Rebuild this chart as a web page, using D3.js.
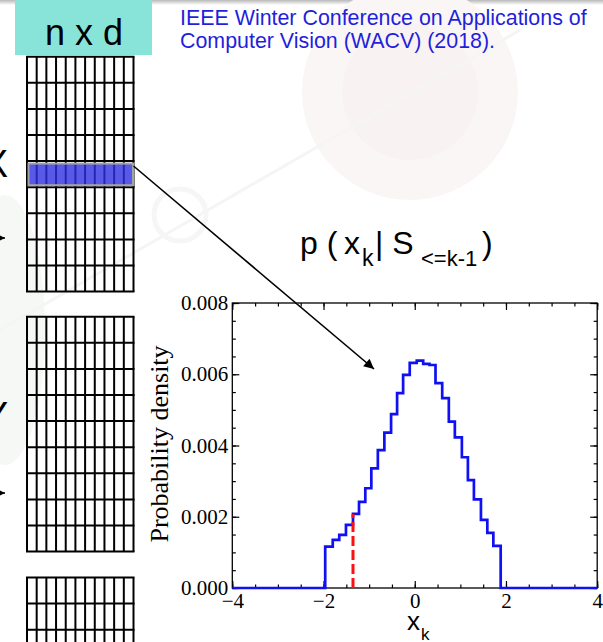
<!DOCTYPE html>
<html>
<head>
<meta charset="utf-8">
<script src="https://cdn.jsdelivr.net/npm/d3@7"></script>
<style>
  html, body { margin: 0; padding: 0; background: #fff; overflow: hidden; }
  svg { display: block; }
</style>
</head>
<body>
<svg id="slide" width="603" height="642"></svg>
<script>
// Histogram of x_k: bin edges and the probability density in each bin
const binEdges = [-1.963, -1.798, -1.655, -1.508, -1.354, -1.222, -1.084, -0.952,
                  -0.809, -0.666, -0.519, -0.387, -0.255, -0.110, 0.044, 0.185,
                  0.323, 0.455, 0.602, 0.747, 0.879, 1.033, 1.165, 1.297,
                  1.451, 1.591, 1.723, 1.884];
const density = [0.00116, 0.00135, 0.00149, 0.00177, 0.00208, 0.00242, 0.00280,
                 0.00336, 0.00387, 0.00436, 0.00488, 0.00547, 0.00598, 0.00632,
                 0.00638, 0.00629, 0.00626, 0.00575, 0.00533, 0.00467, 0.00423,
                 0.00367, 0.00303, 0.00249, 0.00191, 0.00155, 0.00118];
// sampled value of x_k and the density it is drawn at
const sampleX = -1.354;
const sampleDensity = 0.00208;
// axis ranges and labelled ticks
const xDomain = [-4, 4];
const yDomain = [0, 0.008];
const xTickValues = [-4, -2, 0, 2, 4];
const yTickValues = [0, 0.002, 0.004, 0.006, 0.008];

const svg = d3.select("#slide");
const defs = svg.append("defs");

// ---- faint background artwork ----
const bg = svg.append("g").attr("class", "backdrop");
const grad = defs.append("linearGradient")
  .attr("id", "topShade").attr("x1", 0).attr("y1", 0).attr("x2", 0).attr("y2", 1);
grad.append("stop").attr("offset", "0%").attr("stop-color", "#b9b9b9");
grad.append("stop").attr("offset", "100%").attr("stop-color", "#ffffff");
bg.append("rect").attr("x", 0).attr("y", 0).attr("width", 603).attr("height", 5)
  .attr("fill", "url(#topShade)");
bg.append("circle").attr("cx", 410).attr("cy", 92).attr("r", 108).attr("fill", "#fbf6f6");
bg.append("circle").attr("cx", 410).attr("cy", 92).attr("r", 68).attr("fill", "#f9f2f2");
bg.append("ellipse").attr("cx", 5).attr("cy", 330).attr("rx", 40).attr("ry", 135).attr("fill", "#f5f8f5");
bg.append("line").attr("x1", 0).attr("y1", 330).attr("x2", 520).attr("y2", 30)
  .attr("stroke", "#f5f5f5").attr("stroke-width", 3);
bg.append("circle").attr("cx", 180).attr("cy", 215).attr("r", 26).attr("fill", "none")
  .attr("stroke", "#f6f6f6").attr("stroke-width", 5);

// ---- header ----
svg.append("rect").attr("x", 15).attr("y", 0).attr("width", 137).attr("height", 55)
  .attr("fill", "#88e4d8");
svg.append("text").attr("x", 84).attr("y", 45).attr("text-anchor", "middle")
  .attr("font-family", "Liberation Sans, Arial, sans-serif").attr("font-size", 36)
  .attr("fill", "#000").text("n x d");

const cite = svg.append("text")
  .attr("font-family", "Liberation Sans, Arial, sans-serif").attr("font-size", 21.4)
  .attr("fill", "#1f1fdc");
cite.append("tspan").attr("x", 180).attr("y", 25).text("IEEE Winter Conference on Applications of");
cite.append("tspan").attr("x", 180).attr("y", 48).text("Computer Vision (WACV) (2018).");

// ---- n x d data matrices ----
const matCols = 11, matRows = 9;
function drawMatrix(top, highlightRow) {
  const left = 27, width = 106.5, rowH = 26.1;
  const g = svg.append("g");
  const colX = d3.scaleLinear().domain([0, matCols]).range([left, left + width]);
  const rowY = d3.scaleLinear().domain([0, matRows]).range([top, top + rowH * matRows]);
  g.selectAll("line.v").data(d3.range(matCols + 1)).join("line")
    .attr("x1", d => colX(d)).attr("x2", d => colX(d))
    .attr("y1", top).attr("y2", rowY(matRows))
    .attr("stroke", "#000").attr("stroke-width", 2);
  g.selectAll("line.h").data(d3.range(matRows + 1)).join("line")
    .attr("x1", left - 1).attr("x2", left + width + 1)
    .attr("y1", d => rowY(d)).attr("y2", d => rowY(d))
    .attr("stroke", "#000").attr("stroke-width", 2);
  if (highlightRow != null) {
    g.append("rect")
      .attr("x", left + 1.5).attr("y", rowY(highlightRow) + 2.5)
      .attr("width", width - 2).attr("height", rowH - 4.5)
      .attr("fill", "rgb(48,48,226)").attr("fill-opacity", 0.8)
      .attr("stroke", "#a4a4a4").attr("stroke-width", 2);
  }
}
drawMatrix(56.7, 4);
drawMatrix(316.7, null);
drawMatrix(577.5, null);

// side letters, partly outside the slide
const sideFont = "Liberation Sans, Arial, sans-serif";
svg.append("text").attr("x", 8).attr("y", 177).attr("text-anchor", "end")
  .attr("font-family", sideFont).attr("font-size", 38).text("X");
svg.append("text").attr("x", 8).attr("y", 429).attr("text-anchor", "end")
  .attr("font-family", sideFont).attr("font-size", 38).text("Y");

defs.append("marker").attr("id", "head").attr("viewBox", "0 0 10 10")
  .attr("refX", 10).attr("refY", 5).attr("markerWidth", 14).attr("markerHeight", 10)
  .attr("markerUnits", "userSpaceOnUse").attr("orient", "auto")
  .append("path").attr("d", "M0,0 L10,5 L0,10 Z").attr("fill", "#000");
defs.append("marker").attr("id", "smallHead").attr("viewBox", "0 0 10 10")
  .attr("refX", 10).attr("refY", 5).attr("markerWidth", 9).attr("markerHeight", 8)
  .attr("markerUnits", "userSpaceOnUse").attr("orient", "auto")
  .append("path").attr("d", "M0,0 L10,5 L0,10 Z").attr("fill", "#000");
[238, 493].forEach(yy => {
  svg.append("line").attr("x1", -20).attr("y1", yy).attr("x2", 5).attr("y2", yy)
    .attr("stroke", "#000").attr("stroke-width", 1.5).attr("marker-end", "url(#smallHead)");
});

// ---- conditional density title ----
const tFont = "Liberation Sans, Arial, sans-serif";
const title = svg.append("g").attr("font-family", tFont).attr("fill", "#000");
title.append("text").attr("x", 300).attr("y", 254).attr("font-size", 32).text("p (");
title.append("text").attr("x", 344).attr("y", 254).attr("font-size", 32).text("x");
title.append("text").attr("x", 362).attr("y", 266).attr("font-size", 23).text("k");
title.append("text").attr("x", 375).attr("y", 254).attr("font-size", 32).text("| S");
title.append("text").attr("x", 421).attr("y", 266).attr("font-size", 22).text("<=k-1");
title.append("text").attr("x", 482).attr("y", 254).attr("font-size", 32).text(")");

// ---- histogram panel ----
const plot = { left: 232.3, right: 597.2, top: 303, bottom: 588 };
const x = d3.scaleLinear().domain(xDomain).range([plot.left, plot.right]);
const y = d3.scaleLinear().domain(yDomain).range([plot.bottom, plot.top]);
const serif = "Liberation Serif, Times New Roman, serif";

const panel = svg.append("g");
panel.append("rect").attr("x", plot.left).attr("y", plot.top)
  .attr("width", plot.right - plot.left).attr("height", plot.bottom - plot.top)
  .attr("fill", "#fff");

function styleAxis(g) {
  g.select(".domain").remove();
  g.selectAll(".tick line").attr("stroke", "#000").attr("stroke-width", 1.2);
  g.selectAll(".tick text").attr("font-family", serif).attr("font-size", 21).attr("fill", "#000");
}
const minorX = x.ticks(16), minorY = y.ticks(16);

panel.append("g").attr("transform", `translate(0,${plot.bottom})`)
  .call(d3.axisBottom(x).tickValues(minorX).tickSize(-3.5).tickFormat("")).call(styleAxis);
panel.append("g").attr("transform", `translate(0,${plot.top})`)
  .call(d3.axisTop(x).tickValues(minorX).tickSize(-3.5).tickFormat("")).call(styleAxis);
panel.append("g").attr("transform", `translate(${plot.left},0)`)
  .call(d3.axisLeft(y).tickValues(minorY).tickSize(-3.5).tickFormat("")).call(styleAxis);
panel.append("g").attr("transform", `translate(${plot.right},0)`)
  .call(d3.axisRight(y).tickValues(minorY).tickSize(-3.5).tickFormat("")).call(styleAxis);

panel.append("g").attr("transform", `translate(0,${plot.bottom})`)
  .call(d3.axisBottom(x).tickValues(xTickValues).tickSize(-7).tickPadding(5)
    .tickFormat(d3.format("d"))).call(styleAxis);
panel.append("g").attr("transform", `translate(0,${plot.top})`)
  .call(d3.axisTop(x).tickValues(xTickValues).tickSize(-7).tickFormat("")).call(styleAxis);
panel.append("g").attr("transform", `translate(${plot.left},0)`)
  .call(d3.axisLeft(y).tickValues(yTickValues).tickSize(-7).tickPadding(4)
    .tickFormat(d3.format(".3f"))).call(styleAxis);
panel.append("g").attr("transform", `translate(${plot.right},0)`)
  .call(d3.axisRight(y).tickValues(yTickValues).tickSize(-7).tickFormat("")).call(styleAxis);

// step outline of the histogram
const pts = [[xDomain[0], 0]];
density.forEach((d, i) => pts.push([binEdges[i], d]));
pts.push([binEdges[binEdges.length - 1], 0]);
pts.push([xDomain[1], 0]);
const step = d3.line().x(d => x(d[0])).y(d => y(d[1])).curve(d3.curveStepAfter);

panel.append("rect").attr("x", plot.left).attr("y", plot.top)
  .attr("width", plot.right - plot.left).attr("height", plot.bottom - plot.top)
  .attr("fill", "none").attr("stroke", "#000").attr("stroke-width", 1.3);

panel.append("path").attr("d", step(pts)).attr("fill", "none")
  .attr("stroke", "#1010f4").attr("stroke-width", 2.7).attr("stroke-linejoin", "miter");

panel.append("line")
  .attr("x1", x(sampleX)).attr("x2", x(sampleX))
  .attr("y1", y(0)).attr("y2", y(sampleDensity))
  .attr("stroke", "#ff1010").attr("stroke-width", 3).attr("stroke-dasharray", "10,4");

// axis titles
svg.append("text").attr("transform", "translate(168,444) rotate(-90)")
  .attr("text-anchor", "middle").attr("font-family", serif).attr("font-size", 26)
  .text("Probability density");
const xl = svg.append("g").attr("font-family", tFont);
xl.append("text").attr("x", 407).attr("y", 630).attr("font-size", 26).text("x");
xl.append("text").attr("x", 421).attr("y", 640).attr("font-size", 17).text("k");

// pointer from the selected row to the density plot
svg.append("line").attr("x1", 133.5).attr("y1", 166).attr("x2", 374).attr("y2", 369)
  .attr("stroke", "#000").attr("stroke-width", 1.6).attr("marker-end", "url(#head)");
</script>
</body>
</html>
